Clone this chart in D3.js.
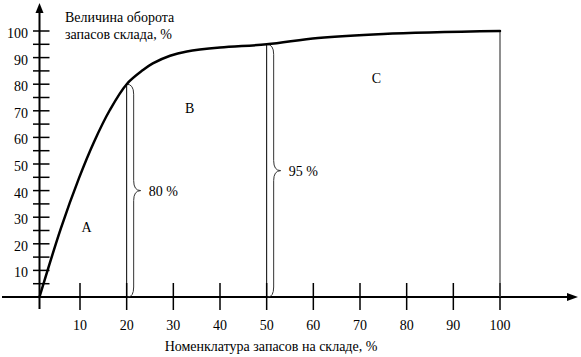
<!DOCTYPE html>
<html>
<head>
<meta charset="utf-8">
<script src="https://cdn.jsdelivr.net/npm/d3@7"></script>
<style>
  html, body { margin: 0; padding: 0; background: #fff; }
  svg { display: block; }
  svg text { font-family: "Liberation Serif", "Times New Roman", serif; font-size: 14px; fill: #000; }
</style>
</head>
<body>
<svg id="chart" width="581" height="357"></svg>
<script>
// ---- data ----
const curveX = [0, 5.3, 9.75, 13, 16.4, 20, 23.5, 25.6, 29.3, 32.9, 40, 50, 61, 75, 100];
const curveY = [0, 25.9, 44.7, 58.3, 70.3, 80, 85.3, 87.8, 90.7, 92.3, 93.8, 95, 97.4, 98.9, 100];
const xTicks = [10, 20, 30, 40, 50, 60, 70, 80, 90, 100];
const yMinorTicks = d3.range(5, 101, 5);
const yLabels = [10, 20, 30, 40, 50, 60, 70, 80, 90, 100];
const bracketX = [20, 50];
const bracketY = [80, 95];
const bracketText = ["80 %", "95 %"];
const zoneNames = ["A", "B", "C"];
const zoneX = [11.4, 33.5, 73.5];
const zoneY = [26.4, 71, 82.5];
const yTitle = ["Величина оборота", "запасов склада, %"];
const xTitle = "Номенклатура запасов на складе, %";

// ---- scales ----
const x = d3.scaleLinear().domain([0, 10, 100]).range([39.5, 80, 500]);
const y = d3.scaleLinear().domain([0, 100]).range([297, 31]);

const svg = d3.select("#chart");

// ---- axes ----
svg.append("line").attr("x1", 2).attr("x2", 570).attr("y1", y(0)).attr("y2", y(0))
  .attr("stroke", "#000").attr("stroke-width", 2);
svg.append("path").attr("d", `M578,${y(0)} L567,${y(0) - 4} L567,${y(0) + 4} Z`).attr("fill", "#000");

svg.append("line").attr("x1", x(0)).attr("x2", x(0)).attr("y1", 309).attr("y2", 12)
  .attr("stroke", "#000").attr("stroke-width", 2);
svg.append("path").attr("d", `M${x(0)},3 L${x(0) - 4},13 L${x(0) + 4},13 Z`).attr("fill", "#000");

// x ticks
svg.append("g").selectAll("line").data(xTicks).join("line")
  .attr("x1", d => x(d)).attr("x2", d => x(d))
  .attr("y1", y(0) - 14).attr("y2", y(0) + 13)
  .attr("stroke", "#000").attr("stroke-width", 1.5);
svg.append("g").selectAll("text").data(xTicks).join("text")
  .attr("x", d => x(d)).attr("y", 330)
  .attr("text-anchor", "middle").text(d => d);

// y ticks
svg.append("g").selectAll("line").data(yMinorTicks).join("line")
  .attr("x1", x(0) - 6.5).attr("x2", x(0) + 10)
  .attr("y1", d => y(d)).attr("y2", d => y(d))
  .attr("stroke", "#000").attr("stroke-width", 1.5);
svg.append("g").selectAll("text").data(yLabels).join("text")
  .attr("x", 28).attr("y", d => y(d) + 7)
  .attr("text-anchor", "end").text(d => d);

// ---- vertical boundary lines ----
svg.append("g").selectAll("line").data(bracketX).join("line")
  .attr("x1", d => x(d)).attr("x2", d => x(d))
  .attr("y1", (d, i) => y(bracketY[i])).attr("y2", y(0))
  .attr("stroke", "#000").attr("stroke-width", 1);
svg.append("line").attr("x1", x(100)).attr("x2", x(100)).attr("y1", y(100)).attr("y2", y(0))
  .attr("stroke", "#444").attr("stroke-width", 1.2);

// ---- braces ----
function bracePath(px, yTop, yBot) {
  const s = px + 7, t = px + 14, m = (yTop + yBot) / 2;
  return `M${px},${yTop} Q${s},${yTop} ${s},${yTop + 10}`
    + ` L${s},${m - 10} Q${s},${m} ${t},${m}`
    + ` Q${s},${m} ${s},${m + 10}`
    + ` L${s},${yBot - 10} Q${s},${yBot} ${px + 1},${yBot}`;
}
svg.append("g").selectAll("path").data(bracketX).join("path")
  .attr("d", (d, i) => bracePath(x(d), y(bracketY[i]), y(0)))
  .attr("fill", "none").attr("stroke", "#333").attr("stroke-width", 1);
svg.append("g").selectAll("text").data(bracketX).join("text")
  .attr("x", d => x(d) + 22)
  .attr("y", (d, i) => (y(bracketY[i]) + y(0)) / 2 + 5)
  .text((d, i) => bracketText[i]);

// ---- curve ----
const pts = curveX.map((d, i) => [d, curveY[i]]);
svg.append("path").datum(pts)
  .attr("d", d3.line().x(d => x(d[0])).y(d => y(d[1])).curve(d3.curveCatmullRom.alpha(0.5)))
  .attr("fill", "none").attr("stroke", "#000").attr("stroke-width", 2.5)
  .attr("stroke-linecap", "round");

// ---- zone labels ----
svg.append("g").selectAll("text").data(zoneNames).join("text")
  .attr("x", (d, i) => x(zoneX[i])).attr("y", (d, i) => y(zoneY[i]) + 5)
  .attr("text-anchor", "middle").text(d => d);

// ---- titles ----
svg.append("g").selectAll("text").data(yTitle).join("text")
  .attr("x", 65).attr("y", (d, i) => 22 + i * 17).text(d => d);
svg.append("text").attr("x", 271).attr("y", 351).attr("text-anchor", "middle").text(xTitle);
</script>
</body>
</html>
